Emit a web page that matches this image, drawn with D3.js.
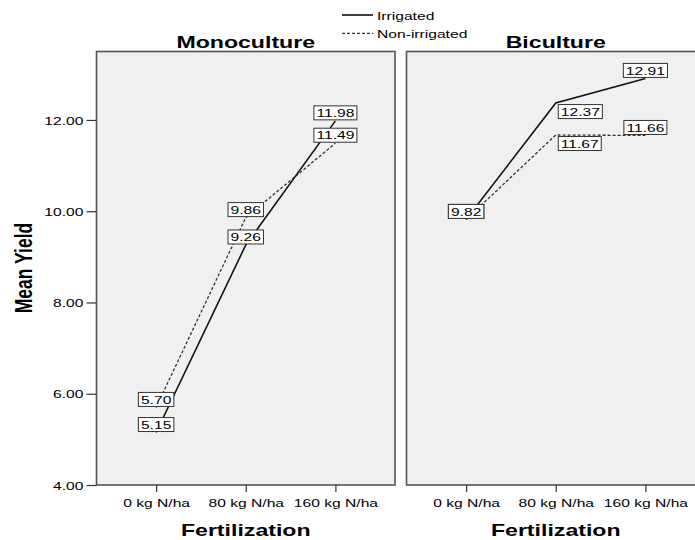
<!DOCTYPE html>
<html>
<head>
<meta charset="utf-8">
<script src="https://cdn.jsdelivr.net/npm/d3@7"></script>
<style>
  body { margin: 0; background: #fff; }
  svg { display: block; font-family: "Liberation Sans", Arial, sans-serif; }
</style>
</head>
<body>
<div id="chart"></div>
<script>
// data
const fertLevels = ["0 kg N/ha", "80 kg N/ha", "160 kg N/ha"];
const panelNames = ["Monoculture", "Biculture"];
const seriesNames = ["Irrigated", "Non-irrigated"];
const monoIrrigated = [5.15, 9.26, 11.98];
const monoNonIrrigated = [5.70, 9.86, 11.49];
const biIrrigated = [9.82, 12.37, 12.91];
const biNonIrrigated = [9.82, 11.67, 11.66];
const yTicks = [4, 6, 8, 10, 12];

// where each value box sits relative to its point
const labelPlace = [
    [["up", "up", "up"], ["up", "up", "up"]],
    [["up", "down", "up"], ["up", "down", "up"]]
];

const panelData = [
    [monoIrrigated, monoNonIrrigated],
    [biIrrigated, biNonIrrigated]
];

const W = 695, H = 540;
const SX = 1.36; // the source image is stretched sideways, so the text is too
const panelLeft = [96.5, 406.5];
const panelW = 298.5;
const plotTop = 51.5, plotBottom = 485;

const svg = d3.select("#chart").append("svg")
    .attr("width", W)
    .attr("height", H);

const y = d3.scaleLinear().domain([4, 13.5]).range([plotBottom, plotTop]);

const x = d3.scalePoint()
    .domain(fertLevels)
    .range([0, panelW])
    .padding(0.665);

// helper: text placed by transform so it can be widened
function addText(parent, tx, ty, str, size, weight, anchor) {
    return parent.append("text")
        .attr("transform", `translate(${tx},${ty}) scale(${SX},1)`)
        .attr("text-anchor", anchor || "middle")
        .style("font-size", size + "px")
        .style("font-weight", weight || "normal")
        .style("fill", "#000")
        .text(str);
}

const lineStyles = [
    { dash: null, width: 1.6, color: "#111" },
    { dash: "3,2", width: 1.3, color: "#333" }
];

panelNames.forEach((name, i) => {
    const g = svg.append("g").attr("transform", `translate(${panelLeft[i]},0)`);

    g.append("rect")
        .attr("x", 0).attr("y", plotTop)
        .attr("width", panelW).attr("height", plotBottom - plotTop)
        .attr("fill", "#f0f0f0")
        .attr("stroke", "#555")
        .attr("stroke-width", 1.6);

    // panel title
    addText(g, panelW / 2, 48, name, 17, "bold");

    // x axis
    const xAxis = g.append("g")
        .attr("transform", `translate(0,${plotBottom})`)
        .call(d3.axisBottom(x).tickSize(7));
    xAxis.select(".domain").remove();
    xAxis.selectAll("line").attr("stroke", "#333").attr("stroke-width", 1.2);
    xAxis.selectAll("text")
        .attr("y", 0).attr("dy", null)
        .attr("transform", `translate(0,21.7) scale(${SX},1)`)
        .style("font-size", "11.5px")
        .style("font-family", "'Liberation Sans', Arial, sans-serif")
        .style("fill", "#000");

    addText(g, panelW / 2, 536, "Fertilization", 17, "bold");

    // lines
    const line = d3.line()
        .x((d, j) => x(fertLevels[j]))
        .y(d => y(d));

    panelData[i].forEach((vals, s) => {
        g.append("path")
            .datum(vals)
            .attr("d", line)
            .attr("fill", "none")
            .attr("stroke", lineStyles[s].color)
            .attr("stroke-width", lineStyles[s].width)
            .attr("stroke-dasharray", lineStyles[s].dash);
    });

    // value boxes
    panelData[i].forEach((vals, s) => {
        vals.forEach((v, j) => {
            const px = x(fertLevels[j]), py = y(v);
            const lg = g.append("g");
            const rect = lg.append("rect");
            const t = lg.append("text")
                .style("font-size", "11.5px")
                .style("fill", "#000")
                .attr("text-anchor", "middle")
                .text(v.toFixed(2));
            const tw = t.node().getComputedTextLength() * SX + 5;
            const bh = 14;
            let cx, cy;
            if (labelPlace[i][s][j] === "up") {
                cx = px; cy = py - 1 - bh / 2;
            } else {
                cx = px + 2.5 + tw / 2; cy = py + 1.5 + bh / 2;
            }
            rect.attr("x", cx - tw / 2).attr("y", cy - bh / 2)
                .attr("width", tw).attr("height", bh)
                .attr("fill", "#fff")
                .attr("stroke", "#333")
                .attr("stroke-width", 1);
            t.attr("transform", `translate(${cx},${cy + 4.2}) scale(${SX},1)`);
        });
    });
});

// y axis on the first panel
const yAxis = svg.append("g")
    .attr("transform", `translate(${panelLeft[0]},0)`)
    .call(d3.axisLeft(y).tickValues(yTicks).tickSize(10).tickFormat(d3.format(".2f")));
yAxis.select(".domain").remove();
yAxis.selectAll("line").attr("stroke", "#333").attr("stroke-width", 1.2);
yAxis.selectAll("text")
    .attr("x", 0).attr("dy", null)
    .attr("transform", `translate(-13,4.1) scale(${SX},1)`)
    .style("font-size", "11.5px")
    .style("font-family", "'Liberation Sans', Arial, sans-serif")
    .style("fill", "#000");

svg.append("text")
    .attr("transform", `translate(32,268) scale(${SX},1) rotate(-90)`)
    .attr("text-anchor", "middle")
    .style("font-size", "17.5px")
    .style("font-weight", "bold")
    .text("Mean Yield");

// legend
const legend = svg.append("g");
seriesNames.forEach((name, s) => {
    const ly = 15 + s * 18.3;
    legend.append("line")
        .attr("x1", 342).attr("x2", 373)
        .attr("y1", ly).attr("y2", ly)
        .attr("stroke", lineStyles[s].color)
        .attr("stroke-width", lineStyles[s].width)
        .attr("stroke-dasharray", lineStyles[s].dash);
    addText(legend, 377, ly + 4.5, name, 11.5, "normal", "start");
});
</script>
</body>
</html>
